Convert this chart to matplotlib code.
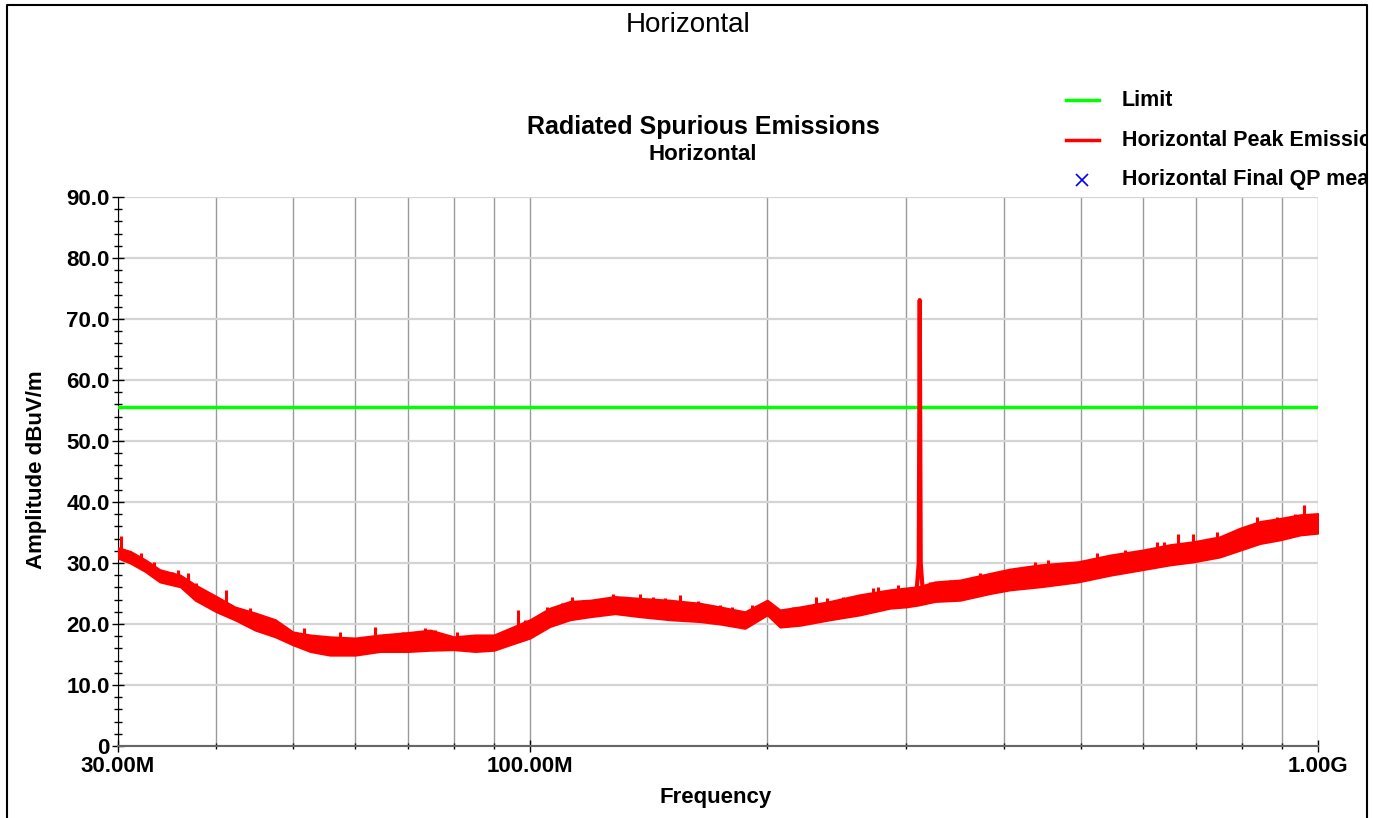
import matplotlib
matplotlib.use('Agg')
import matplotlib.pyplot as plt
from matplotlib.lines import Line2D
from matplotlib.patches import Rectangle
from matplotlib.ticker import FixedLocator, FuncFormatter, MultipleLocator, NullFormatter

plt.rcParams['font.family'] = ['Liberation Sans', 'DejaVu Sans']
plt.rcParams['font.weight'] = 'bold'

# 扫描结果：频率 (MHz) 与峰值包络的上下沿 (dBuV/m)
freq_mhz = [30.0, 31.1, 32.5, 33.9, 36.0, 37.6, 40.0, 42.2, 44.8, 47.5, 50.0, 52.6, 55.7,
            60.0, 64.5, 70.0, 74.7, 80.0, 85.2, 90.0, 94.3, 100.0, 106.0, 112.4, 119.2,
            128.2, 137.9, 150.5, 164.3, 174.2, 187.4, 200.0, 207.6, 220.1, 240.3, 262.3,
            286.3, 300.0, 310.7, 326.5, 351.3, 383.6, 406.5, 443.8, 496.0, 544.6, 598.0,
            649.0, 696.0, 751.0, 796.0, 844.0, 895.0, 948.7, 1000.0]
peak_upper = [32.5, 31.9, 30.5, 28.9, 28.0, 26.4, 24.5, 22.8, 21.8, 20.7, 18.7, 18.2, 17.9,
              17.7, 18.2, 18.6, 19.0, 17.9, 18.2, 18.2, 19.3, 20.7, 22.6, 23.7, 23.9,
              24.5, 24.2, 23.9, 23.4, 22.8, 22.0, 23.9, 22.3, 22.8, 23.7, 24.8,
              25.6, 25.9, 26.1, 26.9, 27.2, 28.3, 29.0, 29.7, 30.2, 31.3, 32.1,
              33.0, 33.5, 34.3, 35.7, 36.8, 37.3, 37.9, 38.1]
peak_lower = [30.8, 30.0, 28.6, 26.9, 26.1, 23.9, 22.0, 20.7, 19.0, 17.9, 16.6, 15.5, 14.9,
              14.9, 15.5, 15.5, 15.7, 15.8, 15.5, 15.7, 16.6, 17.7, 19.6, 20.7, 21.2,
              21.7, 21.2, 20.7, 20.4, 20.0, 19.3, 21.5, 19.5, 19.8, 20.7, 21.5,
              22.6, 22.8, 23.1, 23.7, 23.9, 25.0, 25.6, 26.1, 26.9, 28.0, 28.9,
              29.7, 30.2, 31.0, 32.1, 33.2, 33.8, 34.6, 34.9]

# 单独的毛刺：频率、起点、顶点
burst_freq = [30.26, 32.06, 33.3, 35.1, 35.8, 36.8, 37.7, 40.0, 41.1, 44.1, 46.5, 51.6,
              55.7, 57.4, 63.5, 67.1, 69.0, 73.6, 75.8, 80.7, 85.6, 96.5, 98.6, 105.0,
              109.7, 113.2, 116.8, 127.4, 137.9, 143.4, 148.4, 154.9, 163.4, 174.2, 180.3,
              191.2, 215.8, 230.7, 238.0, 249.8, 272.7, 276.6, 293.3, 321.8, 341.0, 372.4,
              402.7, 437.4, 454.8, 523.8, 568.9, 624.0, 637.8, 664.0, 694.0, 744.0, 835.8,
              886.0, 935.0, 960.0]
burst_base = [31.0, 30.0, 28.0, 27.0, 26.5, 26.0, 25.0, 23.0, 22.0, 20.0, 19.0, 17.0,
              16.0, 16.0, 16.0, 16.0, 16.0, 16.5, 16.5, 16.5, 16.5, 17.5, 18.0, 20.0,
              21.0, 21.0, 21.5, 22.0, 22.0, 22.0, 21.5, 21.0, 21.0, 20.5, 20.0,
              20.0, 20.5, 21.0, 21.5, 22.0, 23.0, 23.0, 23.5, 24.5, 25.0, 25.5,
              26.0, 27.0, 27.0, 28.5, 29.0, 30.0, 30.0, 30.5, 31.0, 32.0, 34.0,
              34.5, 35.0, 35.0]
burst_top = [34.5, 31.6, 30.2, 28.6, 28.9, 28.4, 26.7, 24.5, 25.6, 22.6, 21.2, 19.3,
             17.9, 18.7, 19.5, 18.2, 18.7, 19.3, 19.0, 18.7, 18.2, 22.3, 20.7, 22.8,
             23.4, 24.5, 23.9, 25.0, 24.9, 24.5, 24.2, 24.8, 23.7, 23.1, 22.8,
             23.1, 22.8, 24.5, 24.2, 24.5, 25.9, 26.1, 26.4, 26.9, 27.2, 28.3,
             28.7, 30.2, 30.5, 31.6, 32.1, 33.5, 33.5, 34.8, 34.7, 35.1, 37.6,
             37.6, 38.1, 39.5]

# 312 MHz 载波
carrier_freq = [309.5, 311.4, 312.3, 313.2, 315.0]
carrier_level = [25.5, 30.0, 73.1, 30.0, 25.5]

limit_level = 55.6

x_major = [30, 100, 1000]
x_major_labels = ['30.00M', '100.00M', '1.00G']
x_minor = [40, 50, 60, 70, 80, 90, 200, 300, 400, 500, 600, 700, 800, 900]

W, H = 1374, 818
fig = plt.figure(figsize=(W / 100, H / 100), dpi=100)
ax = fig.add_axes([118 / W, 1 - 746 / H, 1200 / W, 549 / H])

ax.set_xscale('log')
ax.set_xlim(30, 1000)
ax.set_ylim(0, 90)

ax.axhline(limit_level, color='#00ff00', lw=2.5, zorder=3)
ax.fill_between(freq_mhz, peak_lower, peak_upper, color='#ff0000', lw=1.5, zorder=4)
ax.vlines(burst_freq, burst_base, burst_top, color='#ff0000', lw=2.2, zorder=4)
ax.plot(carrier_freq, carrier_level, color='#ff0000', lw=3, zorder=4)

# 坐标轴
ax.xaxis.set_major_locator(FixedLocator(x_major))
ax.xaxis.set_major_formatter(FuncFormatter(lambda v, p: x_major_labels[x_major.index(round(v))]))
ax.xaxis.set_minor_locator(FixedLocator(x_minor))
ax.xaxis.set_minor_formatter(NullFormatter())
ax.yaxis.set_major_locator(MultipleLocator(10))
ax.yaxis.set_minor_locator(MultipleLocator(2))
ax.yaxis.set_major_formatter(FuncFormatter(lambda v, p: '0' if v == 0 else f'{v:.1f}'))

ax.tick_params(axis='both', which='major', labelsize=16, direction='inout', color='black')
ax.tick_params(axis='y', which='major', length=8, width=1, pad=2)
ax.tick_params(axis='y', which='minor', length=5.5, width=1, direction='inout')
ax.tick_params(axis='x', which='major', length=9, width=1, pad=3)
ax.tick_params(axis='x', which='minor', length=4.5, width=1, direction='inout')

ax.grid(True, axis='x', which='both', color='#9a9a9a', lw=1)
ax.grid(True, axis='y', which='major', color='#d4d4d4', lw=1.6)
ax.set_axisbelow(True)
ax.spines['top'].set_visible(False)
ax.spines['right'].set_visible(False)
ax.spines['left'].set_color('black')
ax.spines['bottom'].set_color('#666666')
ax.spines['bottom'].set_linewidth(1.5)

# 标题与轴名
fig.text(688 / W, 1 - 25 / H, 'Horizontal', ha='center', va='center', fontsize=20, fontweight='normal')
fig.text(703 / W, 1 - 127 / H, 'Radiated Spurious Emissions', ha='center', va='center', fontsize=18)
fig.text(703 / W, 1 - 155 / H, 'Horizontal', ha='center', va='center', fontsize=16)
fig.text(37 / W, 1 - 470 / H, 'Amplitude dBuV/m', ha='center', va='center', rotation=90, fontsize=16)
fig.text(716 / W, 1 - 798 / H, 'Frequency', ha='center', va='center', fontsize=16)

# 图例
legend_rows = [('Limit', 100), ('Horizontal Peak Emission', 140), ('Horizontal Final QP measurement', 180)]
fig.add_artist(Line2D([1066 / W, 1099 / W], [1 - 100 / H] * 2, color='#00ff00', lw=2.5))
fig.add_artist(Line2D([1066 / W, 1099 / W], [1 - 140 / H] * 2, color='#ff0000', lw=2.5))
fig.add_artist(Line2D([1082 / W], [1 - 180 / H], color='#0000ff', marker='x', ms=9, mew=1.2, ls='none'))
for label, y in legend_rows:
    fig.text(1122 / W, 1 - y / H, label, ha='left', va='center', fontsize=15.5)

# 外框（右侧截断图例文字）
fig.add_artist(Rectangle((1367 / W, 0), 10 / W, 1, transform=fig.transFigure,
                         facecolor='white', edgecolor='none', zorder=10))
fig.add_artist(Line2D([7 / W, 7 / W, 1367 / W, 1367 / W], [0, 1 - 5 / H, 1 - 5 / H, 0],
                      color='black', lw=1.5, zorder=11))

fig.savefig('out.png', dpi=100)
